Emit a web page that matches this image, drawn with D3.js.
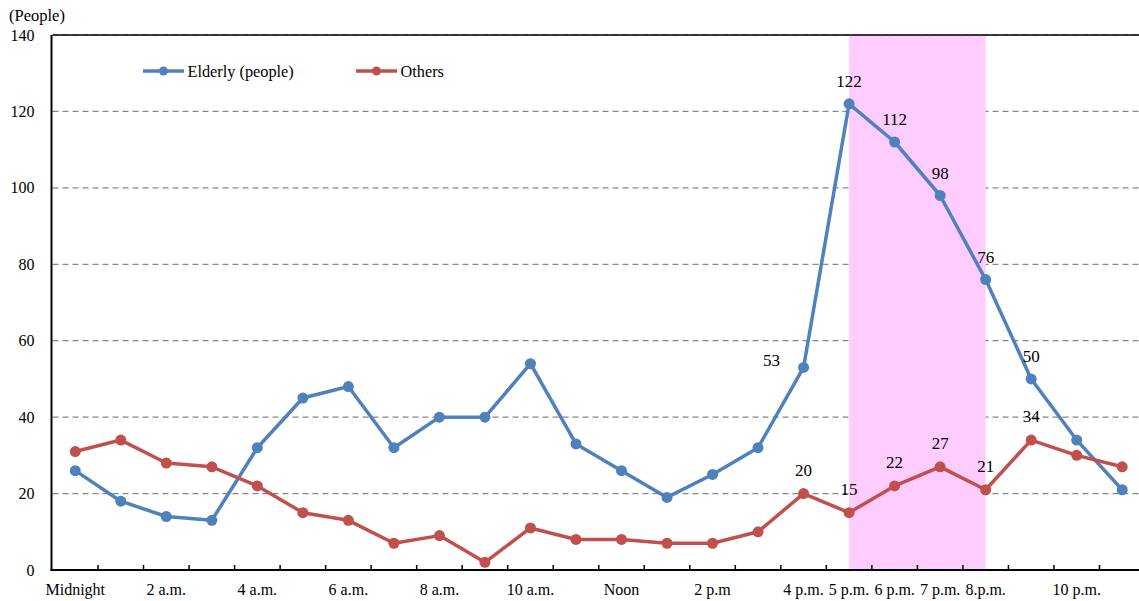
<!DOCTYPE html>
<html><head><meta charset="utf-8">
<script src="https://cdn.jsdelivr.net/npm/d3@7"></script>
<style>body{margin:0;background:#fff}svg{display:block}</style>
</head><body><svg id="c" width="1139" height="601" font-family="'Liberation Serif', 'Times New Roman', Times, serif"></svg>
<script>
const hours = d3.range(24);
const elderly = [26,18,14,13,32,45,48,32,40,40,54,33,26,19,25,32,53,122,112,98,76,50,34,21];
const others  = [31,34,28,27,22,15,13,7,9,2,11,8,8,7,7,10,20,15,22,27,21,34,30,27];
const tickIdx = [0,2,4,6,8,10,12,14,16,17,18,19,20,22];
const tickLabels = ["Midnight","2 a.m.","4 a.m.","6 a.m.","8 a.m.","10 a.m.","Noon","2 p.m","4 p.m.","5 p.m.","6 p.m.","7 p.m.","8.p.m.","10 p.m."];
const yTicks = [0,20,40,60,80,100,120,140];
const elderlyLabelIdx = [16,17,18,19,20,21];
const othersLabelIdx = [16,17,18,19,20,21];
const highlight = [17,20];

const svg = d3.select("#c");
const L=52.5, R=52.5+24*45.52, T=35, B=570, W=1139;
const x = d3.scaleBand().domain(hours).range([L,R]);
const cx = i => x(i)+x.bandwidth()/2;
const y = d3.scaleLinear().domain([0,140]).range([B,T]);

// grid
svg.append("g").selectAll("line").data(yTicks.filter(d=>d>0)).join("line")
  .attr("x1",L).attr("x2",W).attr("y1",d=>y(d)).attr("y2",d=>y(d))
  .attr("stroke","#888").attr("stroke-width",1.2).attr("stroke-dasharray","6,4");
// highlight band (covers gridlines)
svg.append("rect").attr("x",cx(highlight[0])).attr("y",T).attr("width",cx(highlight[1])-cx(highlight[0])).attr("height",B-T).attr("fill","#ffccff");
// top solid line
svg.append("line").attr("x1",L).attr("x2",W).attr("y1",T).attr("y2",T).attr("stroke","#000").attr("stroke-width",1.5);

// y axis labels
svg.append("g").selectAll("text").data(yTicks).join("text")
  .attr("x",34.5).attr("y",d=>y(d)+5.5).attr("text-anchor","end").attr("font-size",16).text(d=>d);
svg.append("text").attr("x",9).attr("y",21).attr("font-size",16.5).text("(People)");

// axes lines
svg.append("line").attr("x1",L-1).attr("x2",L-1).attr("y1",T).attr("y2",B+1).attr("stroke","#000").attr("stroke-width",2);
svg.append("line").attr("x1",L-2).attr("x2",W).attr("y1",B).attr("y2",B).attr("stroke","#000").attr("stroke-width",2);
// x ticks at band boundaries
svg.append("g").selectAll("line").data(d3.range(1,24)).join("line")
  .attr("x1",d=>x(d)).attr("x2",d=>x(d)).attr("y1",B).attr("y2",B-5).attr("stroke","#000").attr("stroke-width",1.5);
svg.append("g").selectAll("text").data(tickIdx).join("text")
  .attr("x",d=>cx(d)).attr("y",595).attr("text-anchor","middle").attr("font-size",16)
  .text((d,i)=>tickLabels[i]);

// series
function series(vals,color){
  const line = d3.line().x((d,i)=>cx(i)).y(d=>y(d));
  svg.append("path").datum(vals).attr("d",line).attr("fill","none").attr("stroke",color).attr("stroke-width",3.5).attr("stroke-linejoin","round");
  svg.append("g").selectAll("circle").data(vals).join("circle")
    .attr("cx",(d,i)=>cx(i)).attr("cy",d=>y(d)).attr("r",5.5).attr("fill",color);
}
series(elderly,"#4f81bd");
series(others,"#c0504d");

// data labels
svg.append("g").selectAll("text").data(elderlyLabelIdx).join("text")
  .attr("x",d=> d===16 ? cx(d)-32 : cx(d)).attr("y",d=> d===16 ? y(elderly[d])-1 : y(elderly[d])-17)
  .attr("text-anchor","middle").attr("font-size",17).text(d=>elderly[d]);
svg.append("g").selectAll("text").data(othersLabelIdx).join("text")
  .attr("x",d=>cx(d)).attr("y",d=>y(others[d])-18)
  .attr("text-anchor","middle").attr("font-size",17).text(d=>others[d]);

// legend
const leg = [{name:"Elderly (people)",color:"#4f81bd",x:143},{name:"Others",color:"#c0504d",x:356}];
const lg = svg.append("g").selectAll("g").data(leg).join("g");
lg.append("line").attr("x1",d=>d.x).attr("x2",d=>d.x+41).attr("y1",71).attr("y2",71).attr("stroke",d=>d.color).attr("stroke-width",3.5);
lg.append("circle").attr("cx",d=>d.x+20.5).attr("cy",71).attr("r",4.5).attr("fill",d=>d.color);
lg.append("text").attr("x",d=>d.x+44.5).attr("y",77).attr("font-size",16.3).text(d=>d.name);
</script></body></html>
